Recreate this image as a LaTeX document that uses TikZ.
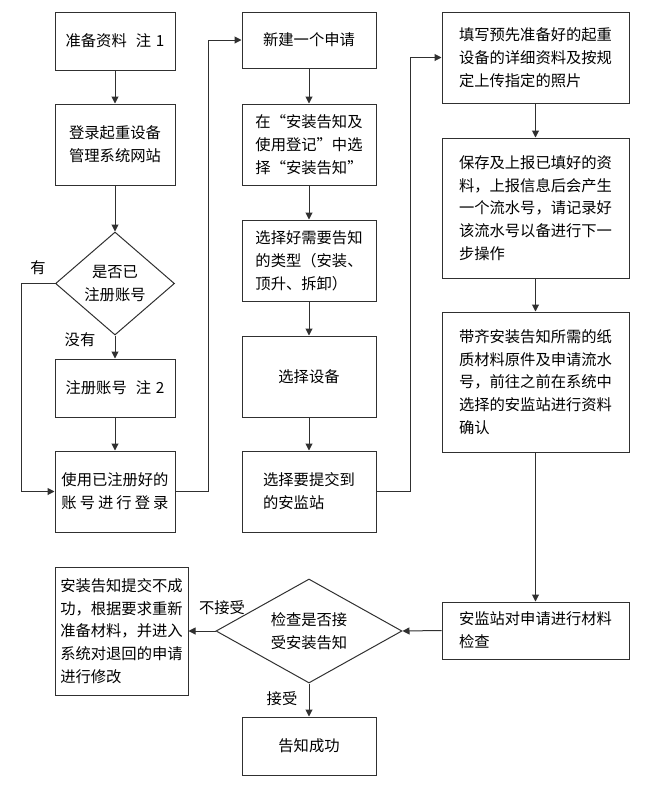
\documentclass[tikz,border=0pt]{standalone}
\usepackage{fontspec}
\newfontfamily\cjk{Noto Sans CJK SC}
\usetikzlibrary{shapes.geometric,arrows.meta}
\definecolor{lc}{HTML}{303030}
\begin{document}
\begin{tikzpicture}[x=1pt,y=-1pt,
  every node/.style={font=\cjk\fontsize{15.3}{22.8}\selectfont, text=black},
  box/.style={draw=lc, line width=1pt, rectangle, inner sep=0pt, align=left},
  dia/.style={draw=lc, line width=1pt, diamond, inner sep=0pt, align=center},
  arr/.style={draw=lc, line width=1pt, -{Triangle[length=7pt,width=7pt]}},
  lab/.style={inner sep=0pt}]
\useasboundingbox (0,0) rectangle (670,796);
% column 1
\node[box, minimum width=120, minimum height=58, align=center] (b1) at (115,41) {准备资料\hspace{0.6em}注\hspace{0.3em}1};
\node[box, minimum width=120, minimum height=81, align=center] (b2) at (115,144.5) {登录起重设备\\管理系统网站};
\node[dia, minimum width=119, minimum height=103, shape aspect=1.15] (d1) at (115,283.5) {是否已\\注册账号};
\node[box, minimum width=120, minimum height=58, align=center] (b3) at (115,388) {注册账号\hspace{0.6em}注\hspace{0.3em}2};
\node[box, minimum width=120, minimum height=81] (b4) at (115,491.5) {使用已注册好的\\\makebox[107pt]{账\hfill 号\hfill 进\hfill 行\hfill 登\hfill 录}};
% column 2
\node[box, minimum width=134, minimum height=56, align=center] (b5) at (309,40) {新建一个申请};
\node[box, minimum width=134, minimum height=81] (b6) at (309,144.5) {在“安装告知及\\使用登记”中选\\择“安装告知”};
\node[box, minimum width=134, minimum height=81] (b7) at (309,260.5) {选择好需要告知\\的类型（安装、\\顶升、拆卸）};
\node[box, minimum width=134, minimum height=81, align=center] (b8) at (309,376.5) {选择设备};
\node[box, minimum width=134, minimum height=81] (b9) at (309,491.5) {选择要提交到\\的安监站};
% column 3
\node[box, minimum width=187, minimum height=91] (b10) at (535.5,57.5) {填写预先准备好的起重\\设备的详细资料及按规\\定上传指定的照片};
\node[box, minimum width=187, minimum height=140] (b11) at (535.5,208) {保存及上报已填好的资\\料，上报信息后会产生\\一个流水号，请记录好\\该流水号以备进行下一\\步操作};
\node[box, minimum width=187, minimum height=140] (b12) at (535.5,382) {带齐安装告知所需的纸\\质材料原件及申请流水\\号，前往之前在系统中\\选择的安监站进行资料\\确认};
\node[box, minimum width=187, minimum height=57] (b13) at (535.5,630.5) {安监站对申请进行材料\\检查};
% bottom
\node[dia, minimum width=186, minimum height=104, shape aspect=1.79] (d2) at (309,631) {检查是否接\\受安装告知};
\node[box, minimum width=133, minimum height=128] (b14) at (121.5,631) {安装告知提交不成\\功，根据要求重新\\准备材料，并进入\\系统对退回的申请\\进行修改};
\node[box, minimum width=134, minimum height=58, align=center] (b15) at (309,746) {告知成功};
% labels
\node[lab] (l1) at (38,268) {有};
\node[lab] (l2) at (80,340) {没有};
\node[lab] (l3) at (222,608) {不接受};
\node[lab] (l4) at (282,699) {接受};
% connectors
\draw[arr] (b1) -- (b2);
\draw[arr] (b2) -- (d1);
\draw[arr] (d1) -- (b3);
\draw[arr] (d1.west) -- ++(-34,0) |- (b4.west);
\draw[arr] (b3) -- (b4);
\draw[arr] (b4.east) -- ++(33,0) |- (b5.west);
\draw[arr] (b5) -- (b6);
\draw[arr] (b6) -- (b7);
\draw[arr] (b7) -- (b8);
\draw[arr] (b8) -- (b9);
\draw[arr] (b9.east) -- ++(34,0) |- (b10.west);
\draw[arr] (b10) -- (b11);
\draw[arr] (b11) -- (b12);
\draw[arr] (b12) -- (b13);
\draw[arr] (b13.west) -- (d2.east);
\draw[arr] (d2.west) -- (b14.east);
\draw[arr] (d2.south) -- (d2.south |- b15.north);
\end{tikzpicture}
\end{document}
